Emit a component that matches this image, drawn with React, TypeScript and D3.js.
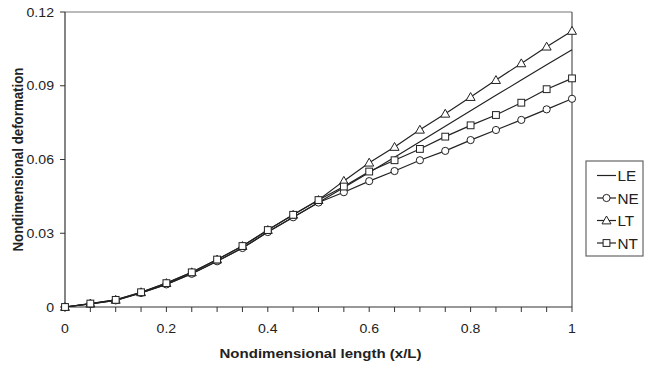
import React from "react";
import * as d3 from "d3";

const xValues = [0, 0.05, 0.1, 0.15, 0.2, 0.25, 0.3, 0.35, 0.4, 0.45, 0.5, 0.55, 0.6, 0.65, 0.7, 0.75, 0.8, 0.85, 0.9, 0.95, 1];
const LE = [0, 0.0013, 0.0027, 0.0057, 0.0092, 0.0135, 0.0186, 0.024, 0.0305, 0.0365, 0.0425, 0.0486, 0.0547, 0.0609, 0.0672, 0.0735, 0.0798, 0.0861, 0.0923, 0.0985, 0.1046];
const NE = [0, 0.0013, 0.0027, 0.0057, 0.0092, 0.0135, 0.0186, 0.024, 0.0305, 0.0365, 0.0425, 0.0467, 0.0512, 0.0553, 0.0597, 0.0635, 0.0679, 0.072, 0.0761, 0.0804, 0.0847];
const LT = [0, 0.0014, 0.0029, 0.006, 0.0097, 0.0141, 0.0193, 0.0248, 0.0313, 0.0375, 0.0435, 0.0513, 0.0587, 0.0651, 0.0721, 0.0786, 0.0854, 0.0923, 0.0991, 0.1059, 0.1123];
const NT = [0, 0.0014, 0.0029, 0.006, 0.0097, 0.0141, 0.0193, 0.0248, 0.0313, 0.0375, 0.0435, 0.049, 0.0551, 0.0597, 0.0643, 0.0693, 0.0739, 0.0781, 0.0831, 0.0886, 0.093];
const yTicks = [0, 0.03, 0.06, 0.09, 0.12];
const yTickLabels = ["0", "0.03", "0.06", "0.09", "0.12"];
const xMinorTicks = d3.range(0, 21).map((i) => i * 0.05);
const xTickLabels = [0, 0.2, 0.4, 0.6, 0.8, 1];
const seriesNames = ["LE", "NE", "LT", "NT"];
const markers = ["none", "circle", "triangle", "square"];

const W = 646;
const H = 365;
const m = { left: 65, right: 572, top: 12, bottom: 307 };
const font = "'Liberation Sans', Arial, sans-serif";
const SX = 1.13;

function Marker({ type, x, y }: { type: string; x: number; y: number }) {
  const stroke = "#222";
  if (type === "circle") return <circle cx={x} cy={y} r={3.6} fill="#fff" stroke={stroke} strokeWidth={1} />;
  if (type === "triangle") {
    const s = 4.5;
    const p = `${x},${y - s} ${x + s},${y + s * 0.75} ${x - s},${y + s * 0.75}`;
    return <polygon points={p} fill="#fff" stroke={stroke} strokeWidth={1} />;
  }
  if (type === "square") return <rect x={x - 3.4} y={y - 3.4} width={6.8} height={6.8} fill="#fff" stroke={stroke} strokeWidth={1} />;
  return null;
}

function SText({ x, y, anchor, size, bold, children, sx = SX }: any) {
  return (
    <text
      transform={`translate(${x},${y}) scale(${sx},1)`}
      textAnchor={anchor}
      fontSize={size}
      fontWeight={bold ? "bold" : "normal"}
      fill="#222"
    >
      {children}
    </text>
  );
}

export default function App() {
  const x = d3.scaleLinear().domain([0, 1]).range([m.left, m.right]);
  const y = d3.scaleLinear().domain([0, 0.12]).range([m.bottom, m.top]);
  const series = [LE, NE, LT, NT];
  const line = d3
    .line<number>()
    .x((_, i) => x(xValues[i]))
    .y((d) => y(d));

  const legendX = 586;
  const legendY = 161;
  return (
    <svg width={W} height={H} style={{ position: "absolute", left: 0, top: 0, background: "#fff" }} fontFamily={font}>
      <rect x={0} y={0} width={W} height={H} fill="#fff" />
      {/* plot frame */}
      <line x1={m.left} x2={m.right} y1={m.top} y2={m.top} stroke="#777" strokeWidth={1.2} />
      <line x1={m.right} x2={m.right} y1={m.top} y2={m.bottom} stroke="#555" strokeWidth={1.2} />
      {/* y axis */}
      <line x1={m.left} x2={m.left} y1={m.top} y2={m.bottom} stroke="#333" strokeWidth={1.2} />
      {yTicks.map((t, i) => (
        <g key={"yt" + i}>
          <line x1={m.left - 5} x2={m.left} y1={y(t)} y2={y(t)} stroke="#333" strokeWidth={1} />
          <SText x={m.left - 11} y={y(t) + 4.5} anchor="end" size={12.5}>
            {yTickLabels[i]}
          </SText>
        </g>
      ))}
      {/* x axis */}
      <line x1={m.left} x2={m.right} y1={m.bottom} y2={m.bottom} stroke="#333" strokeWidth={1.2} />
      {xMinorTicks.map((t, i) => (
        <line key={"xt" + i} x1={x(t)} x2={x(t)} y1={m.bottom} y2={m.bottom + 5} stroke="#333" strokeWidth={1} />
      ))}
      {xTickLabels.map((t, i) => (
        <SText key={"xl" + i} x={x(t)} y={m.bottom + 26} anchor="middle" size={12.5}>
          {String(t)}
        </SText>
      ))}
      <SText x={(m.left + m.right) / 2 + 2} y={358} anchor="middle" size={13.3} bold>
        Nondimensional length (x/L)
      </SText>
      <text
        transform={`translate(${23},${(m.top + m.bottom) / 2}) rotate(-90) scale(1,${SX})`}
        textAnchor="middle"
        fontSize={13.3}
        fontWeight="bold"
        fill="#222"
      >
        Nondimensional deformation
      </text>
      {/* series */}
      {series.map((s, k) => (
        <path key={"p" + k} d={line(s) || ""} fill="none" stroke="#222" strokeWidth={1.2} />
      ))}
      {series.map((s, k) =>
        markers[k] === "none"
          ? null
          : s.map((v, i) => <Marker key={`m${k}-${i}`} type={markers[k]} x={x(xValues[i])} y={y(v)} />)
      )}
      {/* legend */}
      <rect x={legendX} y={legendY} width={57} height={95} fill="#fff" stroke="#666" strokeWidth={1.2} />
      {seriesNames.map((n, k) => {
        const ly = 175.5 + k * 22.5;
        return (
          <g key={"lg" + k}>
            <line x1={597} x2={616} y1={ly} y2={ly} stroke="#222" strokeWidth={1.2} />
            <Marker type={markers[k]} x={606.5} y={ly} />
            <SText x={617.5} y={ly + 5.5} anchor="start" size={15} sx={1.02}>
              {n}
            </SText>
          </g>
        );
      })}
    </svg>
  );
}
